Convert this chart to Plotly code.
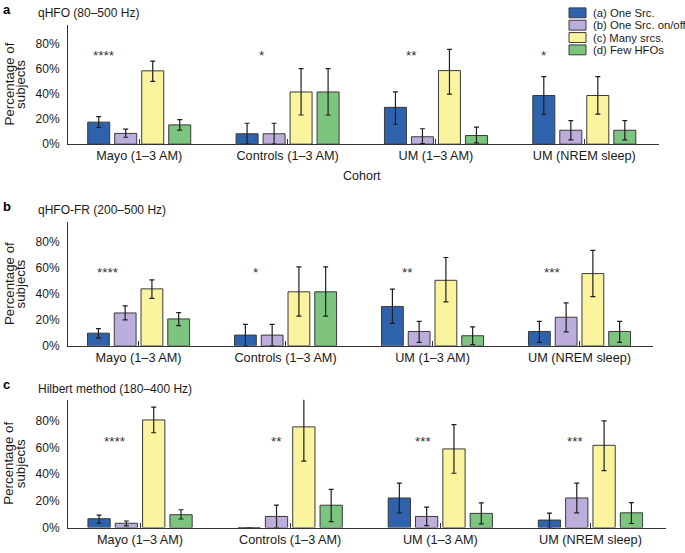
import plotly.graph_objects as go

W, H = 685, 553

categories = ["Mayo (1–3 AM)", "Controls (1–3 AM)", "UM (1–3 AM)", "UM (NREM sleep)"]
series_names = ["(a) One Src.", "(b) One Src. on/off", "(c) Many srcs.", "(d) Few HFOs"]
series_colors = ["#2f62ad", "#bcaddd", "#fbf49f", "#7dc47e"]
y_ticks = [0, 20, 40, 60, 80]
y_ticktext = ["0%", "20%", "40%", "60%", "80%"]
y_title_lines = ["Percentage of", "subjects"]

panel_letters = ["a", "b", "c"]
panel_titles = ["qHFO (80–500 Hz)", "qHFO-FR (200–500 Hz)", "Hilbert method (180–400 Hz)"]

# Panel a: qHFO
a_one_src = [17.6, 8.3, 29.4, 38.9]
a_one_src_hi = [22.0, 16.7, 41.8, 53.9]
a_one_src_lo = [13.3, 0.0, 15.9, 23.8]
a_onoff = [8.6, 8.3, 5.9, 11.1]
a_onoff_hi = [12.0, 16.7, 12.3, 18.8]
a_onoff_lo = [5.5, 0.0, 0.5, 3.4]
a_many = [58.6, 41.7, 58.8, 38.9]
a_many_hi = [66.4, 60.4, 75.8, 54.0]
a_many_lo = [50.1, 23.3, 40.0, 24.0]
a_few = [15.4, 41.7, 6.9, 11.1]
a_few_hi = [19.6, 60.4, 13.6, 18.8]
a_few_lo = [11.2, 23.3, 1.0, 3.4]
a_stars = ["****", "*", "**", "*"]

# Panel b: qHFO-FR
b_one_src = [9.8, 8.3, 30.4, 11.1]
b_one_src_hi = [13.3, 16.6, 43.8, 18.9]
b_one_src_lo = [6.0, 0.0, 17.4, 2.7]
b_onoff = [25.4, 8.3, 11.1, 22.1]
b_onoff_hi = [30.9, 16.6, 18.9, 33.2]
b_onoff_lo = [20.0, 0.0, 2.7, 10.8]
b_many = [44.0, 41.7, 50.6, 55.8]
b_many_hi = [51.0, 61.0, 68.2, 73.7]
b_many_lo = [36.7, 23.0, 34.0, 38.0]
b_few = [20.8, 41.7, 7.8, 11.1]
b_few_hi = [25.6, 61.0, 14.6, 18.9]
b_few_lo = [15.6, 23.0, 1.0, 2.7]
b_stars = ["****", "*", "**", "***"]

# Panel c: Hilbert method
c_one_src = [6.6, 0.0, 22.1, 5.6]
c_one_src_hi = [9.3, 0.0, 33.2, 10.8]
c_one_src_lo = [3.2, 0.0, 11.0, 0.0]
c_onoff = [3.2, 8.3, 8.3, 22.1]
c_onoff_hi = [4.9, 16.7, 15.2, 33.2]
c_onoff_lo = [1.2, 0.0, 1.5, 11.0]
c_many = [80.5, 75.3, 58.8, 61.5]
c_many_hi = [90.0, 100.0, 77.0, 79.8]
c_many_lo = [70.9, 49.7, 40.6, 42.5]
c_few = [9.6, 16.7, 10.6, 11.0]
c_few_hi = [13.3, 28.5, 18.5, 18.7]
c_few_lo = [6.4, 4.4, 2.7, 3.0]
c_stars = ["****", "**", "***", "***"]

panels = [
    dict(vals=[a_one_src, a_onoff, a_many, a_few],
         his=[a_one_src_hi, a_onoff_hi, a_many_hi, a_few_hi],
         los=[a_one_src_lo, a_onoff_lo, a_many_lo, a_few_lo],
         stars=a_stars),
    dict(vals=[b_one_src, b_onoff, b_many, b_few],
         his=[b_one_src_hi, b_onoff_hi, b_many_hi, b_few_hi],
         los=[b_one_src_lo, b_onoff_lo, b_many_lo, b_few_lo],
         stars=b_stars),
    dict(vals=[c_one_src, c_onoff, c_many, c_few],
         his=[c_one_src_hi, c_onoff_hi, c_many_hi, c_few_hi],
         los=[c_one_src_lo, c_onoff_lo, c_many_lo, c_few_lo],
         stars=c_stars),
]

# layout geometry (pixels)
y_px = [(25, 146), (225, 350.3), (405, 534.3)]
x_px = [(68, 658.5), (68, 653), (68, 665.5)]
star_x = [[-0.237, 0.828, 1.838, 2.728],
          [-0.206, 0.796, 1.831, 2.819],
          [-0.17, 0.91, 1.89, 2.90]]
star_y = [74.2, 59.7, 67.4]
title_y_px = [13, 213, 394]
letter_y_px = [0, 200, 380]
y_title_x_px = [9, 20.5]
YMAX = 95.5
FONT = "Liberation Sans, Arial, Helvetica, sans-serif"
AX = "#333333"

fig = go.Figure()
layout = dict(
    width=W, height=H, margin=dict(l=0, r=0, t=0, b=0),
    paper_bgcolor="white", plot_bgcolor="white",
    barmode="group", bargap=0.272, bargroupgap=0.185,
    showlegend=False,
    font=dict(family=FONT, size=12, color="#1a1a1a"),
)
annotations = []
shapes = []

for p, panel in enumerate(panels):
    sfx = "" if p == 0 else str(p + 1)
    for s in range(4):
        vals = panel["vals"][s]
        up = [h - v for h, v in zip(panel["his"][s], vals)]
        dn = [v - l for v, l in zip(vals, panel["los"][s])]
        fig.add_trace(go.Bar(
            x=categories, y=vals, name=series_names[s],
            marker=dict(color=series_colors[s], line=dict(color="#3a3a3a", width=1)),
            error_y=dict(type="data", symmetric=False, array=up, arrayminus=dn,
                         color="#1e1e1e", thickness=1.2, width=2.5),
            xaxis="x" + sfx, yaxis="y" + sfx, showlegend=False,
        ))
    x0, x1 = x_px[p]
    y0, y1 = y_px[p]
    layout["xaxis" + sfx] = dict(
        domain=[x0 / W, x1 / W], anchor="y" + sfx, range=[-0.48, 3.5],
        showline=True, linecolor=AX, linewidth=1,
        ticks="inside", ticklen=5, tickcolor=AX, tickwidth=1,
        tickfont=dict(size=12.7, family=FONT, color="#1a1a1a"),
        showgrid=False, zeroline=False, fixedrange=True,
    )
    layout["yaxis" + sfx] = dict(
        domain=[1 - y1 / H, 1 - y0 / H], anchor="x" + sfx, range=[0, YMAX],
        tickvals=y_ticks, ticktext=y_ticktext,
        showline=True, linecolor=AX, linewidth=1, ticks="",
        ticklabelstandoff=5,
        tickfont=dict(size=12, family=FONT, color="#1a1a1a"),
        showgrid=False, zeroline=False, fixedrange=True,
    )
    # stars
    for i, st in enumerate(panel["stars"]):
        annotations.append(dict(
            x=star_x[p][i], y=star_y[p], xref="x" + sfx, yref="y" + sfx,
            text=st, showarrow=False, font=dict(size=13.5, family=FONT, color="#333"),
            xanchor="center", yanchor="middle", yshift=-4,
        ))
    # panel letter and title
    annotations.append(dict(
        x=1 / W, y=1 - letter_y_px[p] / H, xref="paper", yref="paper",
        text="<b>%s</b>" % panel_letters[p], showarrow=False,
        font=dict(size=13, family=FONT, color="black"), xanchor="left", yanchor="top",
    ))
    annotations.append(dict(
        x=36 / W, y=1 - title_y_px[p] / H, xref="paper", yref="paper",
        text=panel_titles[p], showarrow=False,
        font=dict(size=12, family=FONT, color="#1a1a1a"), xanchor="left", yanchor="middle",
    ))
    # y-axis title (two tightly spaced lines)
    for li, line in enumerate(y_title_lines):
        annotations.append(dict(
            x=y_title_x_px[li] / W, y=1 - (y0 + y1) / 2 / H, xref="paper", yref="paper",
            text=line, showarrow=False, textangle=-90,
            font=dict(size=13.3, family=FONT, color="#1a1a1a"),
            xanchor="center", yanchor="middle",
        ))

# x-axis title (only panel a)
annotations.append(dict(
    x=362 / W, y=1 - 178 / H, xref="paper", yref="paper", text="Cohort",
    showarrow=False, font=dict(size=12.5, family=FONT, color="#1a1a1a"),
    xanchor="center", yanchor="middle",
))

# legend (manual, compact)
leg_rows = [13, 25.5, 38, 50.5]
for s in range(4):
    cy = leg_rows[s]
    shapes.append(dict(
        type="rect", xref="paper", yref="paper",
        x0=569 / W, x1=586 / W, y0=1 - (cy + 5) / H, y1=1 - (cy - 5) / H,
        fillcolor=series_colors[s], line=dict(color="#3a3a3a", width=1),
    ))
    annotations.append(dict(
        x=591 / W, y=1 - cy / H, xref="paper", yref="paper", text=series_names[s],
        showarrow=False, font=dict(size=11.3, family=FONT, color="#1a1a1a"),
        xanchor="left", yanchor="middle",
    ))

layout["annotations"] = annotations
layout["shapes"] = shapes
fig.update_layout(**layout)
fig.write_html(
    "out.html",
    config={"displayModeBar": False, "staticPlot": True},
    post_script="document.body.style.margin='0';document.body.style.padding='0';",
)
